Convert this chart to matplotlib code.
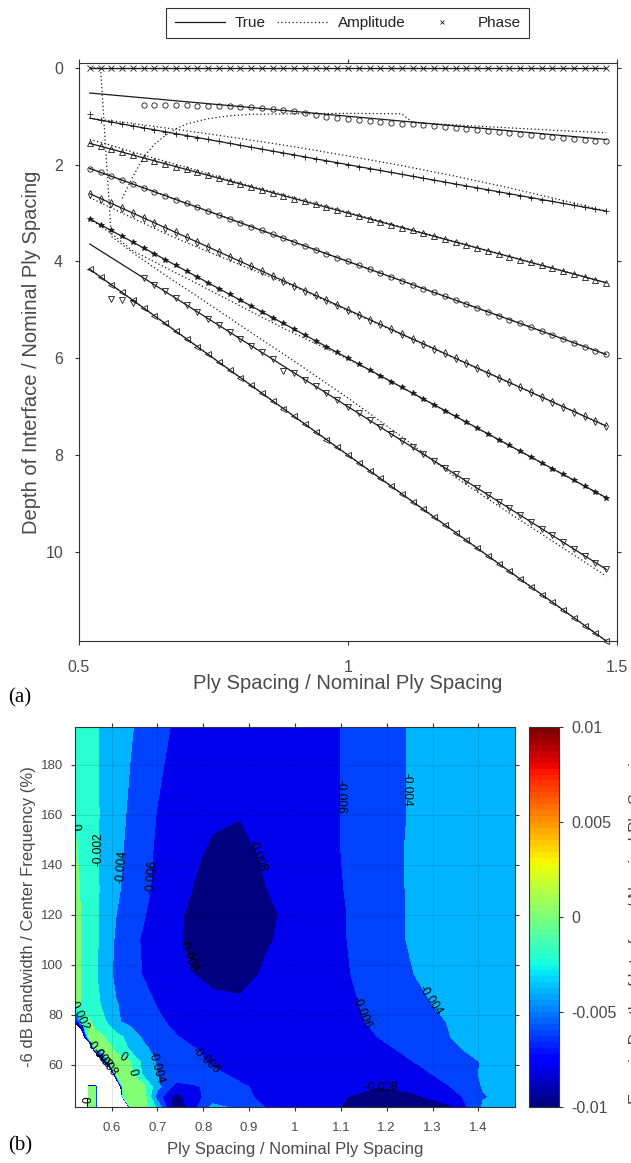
import numpy as np
import matplotlib
matplotlib.use('Agg')
import matplotlib.pyplot as plt
from matplotlib.lines import Line2D
from matplotlib.colors import Normalize
import matplotlib.cm as cm

plt.rcParams['font.family'] = ['Liberation Sans', 'DejaVu Sans']

nan = float('nan')

# ---------------- panel (a) data ----------------
ply_spacing = [0.52, 0.54, 0.56, 0.58, 0.60, 0.62, 0.64, 0.66, 0.68, 0.70, 0.72, 0.74,
               0.76, 0.78, 0.80, 0.82, 0.84, 0.86, 0.88, 0.90, 0.92, 0.94, 0.96, 0.98,
               1.00, 1.02, 1.04, 1.06, 1.08, 1.10, 1.12, 1.14, 1.16, 1.18, 1.20, 1.22,
               1.24, 1.26, 1.28, 1.30, 1.32, 1.34, 1.36, 1.38, 1.40, 1.42, 1.44, 1.46, 1.48]

true_x = [0.52, 1.48]
true_start = [0.0, 0.52, 1.04, 1.56, 2.08, 2.60, 3.12, 3.64, 4.16]
true_end = [0.0, 1.48, 2.96, 4.44, 5.92, 7.40, 8.88, 10.36, 11.84]

phase_0 = [0.0] * 49
phase_1 = [nan, nan, nan, nan, nan, 0.76, 0.76, 0.76, 0.77, 0.77, 0.78, 0.78, 0.79, 0.79,
           0.80, 0.80, 0.82, 0.84, 0.87, 0.90, 0.94, 0.97, 1.01, 1.03, 1.05, 1.07, 1.09,
           1.11, 1.13, 1.15, 1.17, 1.19, 1.21, 1.23, 1.25, 1.27, 1.29, 1.31, 1.33, 1.35,
           1.37, 1.39, 1.41, 1.43, 1.45, 1.47, 1.49, 1.51, 1.52]
phase_2 = [0.96, 1.08, 1.12, 1.16, 1.20, 1.24, 1.28, 1.32, 1.36, 1.40, 1.44, 1.48, 1.52,
           1.56, 1.60, 1.64, 1.68, 1.72, 1.76, 1.80, 1.84, 1.88, 1.92, 1.96, 2.00, 2.04,
           2.08, 2.12, 2.16, 2.20, 2.24, 2.28, 2.32, 2.36, 2.40, 2.44, 2.48, 2.52, 2.56,
           2.60, 2.64, 2.68, 2.72, 2.76, 2.80, 2.84, 2.88, 2.92, 2.96]
phase_3 = [1.56, 1.62, 1.68, 1.74, 1.80, 1.86, 1.92, 1.98, 2.04, 2.10, 2.16, 2.22, 2.28,
           2.34, 2.40, 2.46, 2.52, 2.58, 2.64, 2.70, 2.76, 2.82, 2.88, 2.94, 3.00, 3.06,
           3.12, 3.18, 3.24, 3.30, 3.36, 3.42, 3.48, 3.54, 3.60, 3.66, 3.72, 3.78, 3.84,
           3.90, 3.96, 4.02, 4.08, 4.14, 4.20, 4.26, 4.32, 4.38, 4.44]
phase_4 = [2.08, 2.16, 2.24, 2.32, 2.40, 2.48, 2.56, 2.64, 2.72, 2.80, 2.88, 2.96, 3.04,
           3.12, 3.20, 3.28, 3.36, 3.44, 3.52, 3.60, 3.68, 3.76, 3.84, 3.92, 4.00, 4.08,
           4.16, 4.24, 4.32, 4.40, 4.48, 4.56, 4.64, 4.72, 4.80, 4.88, 4.96, 5.04, 5.12,
           5.20, 5.28, 5.36, 5.44, 5.52, 5.60, 5.68, 5.76, 5.84, 5.92]
phase_5 = [2.6, 2.7, 2.8, 2.9, 3.0, 3.1, 3.2, 3.3, 3.4, 3.5, 3.6, 3.7, 3.8, 3.9, 4.0, 4.1,
           4.2, 4.3, 4.4, 4.5, 4.6, 4.7, 4.8, 4.9, 5.0, 5.1, 5.2, 5.3, 5.4, 5.5, 5.6, 5.7,
           5.8, 5.9, 6.0, 6.1, 6.2, 6.3, 6.4, 6.5, 6.6, 6.7, 6.8, 6.9, 7.0, 7.1, 7.2, 7.3, 7.4]
phase_6 = [3.12, 3.24, 3.36, 3.48, 3.60, 3.72, 3.84, 3.96, 4.08, 4.20, 4.32, 4.44, 4.56,
           4.68, 4.80, 4.92, 5.04, 5.16, 5.28, 5.40, 5.52, 5.64, 5.76, 5.88, 6.00, 6.12,
           6.24, 6.36, 6.48, 6.60, 6.72, 6.84, 6.96, 7.08, 7.20, 7.32, 7.44, 7.56, 7.68,
           7.80, 7.92, 8.04, 8.16, 8.28, 8.40, 8.52, 8.64, 8.76, 8.88]
phase_7 = [nan, nan, 4.78, 4.80, 4.86, 4.34, 4.48, 4.62, 4.76, 4.90, 5.04, 5.18, 5.32,
           5.46, 5.60, 5.74, 5.88, 6.02, 6.26, 6.30, 6.44, 6.58, 6.72, 6.86, 7.00, 7.14,
           7.28, 7.42, 7.56, 7.70, 7.84, 7.98, 8.12, 8.26, 8.40, 8.54, 8.68, 8.82, 8.96,
           9.10, 9.24, 9.38, 9.52, 9.66, 9.80, 9.94, 10.08, 10.22, 10.36]
phase_8 = [4.16, 4.32, 4.48, 4.64, 4.80, 4.96, 5.12, 5.28, 5.44, 5.60, 5.76, 5.92, 6.08,
           6.24, 6.40, 6.56, 6.72, 6.88, 7.04, 7.20, 7.36, 7.52, 7.68, 7.84, 8.00, 8.16,
           8.32, 8.48, 8.64, 8.80, 8.96, 9.12, 9.28, 9.44, 9.60, 9.76, 9.92, 10.08, 10.24,
           10.40, 10.56, 10.72, 10.88, 11.04, 11.20, 11.36, 11.52, 11.68, 11.84]

amp_x_0 = [0.52, 1.48]
amp_d_0 = [0.0, 0.0]
amp_x_1 = [0.58, 0.60, 0.62, 0.64, 0.66, 0.68, 0.70, 0.74, 0.78, 0.82, 0.90, 1.00, 1.10,
           1.12, 1.20, 1.30, 1.40, 1.48]
amp_d_1 = [2.70, 2.25, 1.85, 1.58, 1.40, 1.26, 1.16, 1.05, 0.99, 0.96, 0.95, 0.94, 0.95,
           1.13, 1.18, 1.24, 1.30, 1.34]
amp_x_2 = [0.52, 0.60, 0.70, 0.80, 0.90, 1.00, 1.10, 1.20, 1.30, 1.40, 1.48]
amp_d_2 = [1.04, 1.15, 1.30, 1.46, 1.63, 1.82, 2.02, 2.24, 2.48, 2.74, 2.96]
amp_x_3 = [0.52, 0.56, 0.60, 0.66, 0.72, 0.80, 0.90, 1.48]
amp_d_3 = [1.48, 1.60, 1.74, 1.93, 2.12, 2.38, 2.68, 4.44]
amp_x_4 = [0.52, 1.48]
amp_d_4 = [2.08, 5.92]
amp_x_5 = [0.52, 0.58, 0.66, 0.74, 0.82, 0.90, 1.48]
amp_d_5 = [2.68, 3.00, 3.42, 3.80, 4.16, 4.52, 7.40]
amp_x_6 = [0.52, 0.56, 0.60, 0.66, 0.72, 0.80, 0.88, 0.96, 1.04, 1.48]
amp_d_6 = [3.12, 3.42, 3.78, 4.12, 4.46, 4.92, 5.38, 5.80, 6.24, 8.88]
amp_x_7 = [0.52, 0.54, 0.56, 0.60, 0.66, 0.72, 0.80, 0.90, 1.00, 1.10, 1.20, 1.30, 1.40, 1.48]
amp_d_7 = [0.0, 0.0, 3.48, 3.82, 4.28, 4.72, 5.32, 6.06, 6.82, 7.62, 8.46, 9.20, 9.92, 10.50]
amp_x_8 = [0.52, 1.48]
amp_d_8 = [4.16, 11.84]

legend_labels = ['True', 'Amplitude', 'Phase']

# ---------------- panel (b) data ----------------
bw_ply_spacing = [0.52, 0.535, 0.55, 0.565, 0.58, 0.595, 0.61, 0.625, 0.64, 0.67, 0.70, 0.74,
                  0.78, 0.82, 0.88, 0.94, 1.02, 1.10, 1.18, 1.26, 1.34, 1.41, 1.48]
bw_bandwidth = [43, 47, 51, 56, 61, 66, 71, 77, 84, 96, 110, 120, 130, 145, 160, 195]
err_43 = [-0.1, -0.1, 0.0012, 0.0012, -0.1, -0.1, -0.1, -0.1, 0.0004,
          0.0010, -0.0025, -0.0097, -0.0066, -0.0035, -0.0045, -0.0062, -0.0072, -0.0080,
          -0.0090, -0.0088, -0.0082, -0.0038, -0.0034]
err_47 = [-0.1, -0.1, 0.0010, 0.0010, -0.1, -0.1, -0.1, 0.0002, 0.0008,
          0.0010, -0.0050, -0.0088, -0.0068, -0.0050, -0.0055, -0.0065, -0.0074, -0.0079,
          -0.0085, -0.0083, -0.0071, -0.0041, -0.0035]
err_51 = [-0.1, -0.1, 0.0003, 0.0003, -0.1, -0.1, -0.03, 0.0008, 0.0009,
          0.0006, -0.0035, -0.0068, -0.0062, -0.0056, -0.0058, -0.0064, -0.0072, -0.0077,
          -0.0080, -0.0075, -0.0060, -0.0039, -0.0034]
err_56 = [-0.1, -0.1, -0.1, -0.1, -0.1, -0.03, 0.0010, 0.0012, 0.0007,
          -0.0025, -0.0040, -0.0046, -0.0052, -0.0057, -0.0063, -0.0069, -0.0074, -0.0076,
          -0.0075, -0.0068, -0.0052, -0.0038, -0.0034]
err_61 = [-0.1, -0.1, -0.1, -0.05, -0.012, 0.0006, 0.0009, 0.0006, 0.0001,
          -0.0027, -0.0042, -0.0049, -0.0056, -0.0062, -0.0068, -0.0072, -0.0074, -0.0073,
          -0.0068, -0.0060, -0.0049, -0.0039, -0.0033]
err_66 = [-0.1, -0.1, -0.03, 0.0004, 0.0008, 0.0004, -0.0003, -0.0013, -0.0022,
          -0.0036, -0.0046, -0.0053, -0.0059, -0.0064, -0.0069, -0.0071, -0.0072, -0.0071,
          -0.0064, -0.0056, -0.0043, -0.0035, -0.0032]
err_71 = [-0.03, -0.017, 0.0006, 0.0005, 0.0002, -0.0005, -0.0013, -0.0020, -0.0028,
          -0.0043, -0.0051, -0.0059, -0.0065, -0.0069, -0.0073, -0.0073, -0.0072, -0.0069,
          -0.0060, -0.0051, -0.0040, -0.0035, -0.0031]
err_77 = [-0.009, -0.002, 0.0002, -0.0006, -0.0014, -0.0025, -0.0038, -0.0041, -0.0045,
          -0.0053, -0.0057, -0.0064, -0.0070, -0.0073, -0.0075, -0.0075, -0.0073, -0.0068,
          -0.0056, -0.0047, -0.0039, -0.0033, -0.0030]
err_84 = [0.0004, -0.0001, -0.0006, -0.0014, -0.0023, -0.0031, -0.0039, -0.0043, -0.0047,
          -0.0054, -0.0061, -0.0068, -0.0073, -0.0076, -0.0078, -0.0077, -0.0073, -0.0066,
          -0.0054, -0.0044, -0.0036, -0.0032, -0.0030]
err_96 = [0.0005, -0.0001, -0.0008, -0.0018, -0.0028, -0.0036, -0.0045, -0.0050, -0.0054,
          -0.0061, -0.0067, -0.0074, -0.0080, -0.0084, -0.0084, -0.0078, -0.0073, -0.0063,
          -0.0052, -0.0040, -0.0034, -0.0031, -0.0030]
err_110 = [0.0005, -0.0001, -0.0006, -0.0016, -0.0026, -0.0034, -0.0043, -0.0049, -0.0055,
           -0.0062, -0.0069, -0.0078, -0.0084, -0.0087, -0.0088, -0.0081, -0.0075, -0.0062,
           -0.0050, -0.0037, -0.0033, -0.0031, -0.0030]
err_120 = [0.0004, -0.0001, -0.0007, -0.0016, -0.0025, -0.0032, -0.0040, -0.0045, -0.0051,
           -0.0059, -0.0066, -0.0077, -0.0084, -0.0087, -0.0088, -0.0082, -0.0075, -0.0062,
           -0.0050, -0.0037, -0.0033, -0.0031, -0.0030]
err_130 = [0.0004, -0.0002, -0.0008, -0.0016, -0.0024, -0.0030, -0.0037, -0.0042, -0.0047,
           -0.0056, -0.0064, -0.0073, -0.0081, -0.0084, -0.0086, -0.0080, -0.0073, -0.0061,
           -0.0049, -0.0037, -0.0033, -0.0031, -0.0030]
err_145 = [0.0002, -0.0004, -0.0010, -0.0017, -0.0024, -0.0029, -0.0036, -0.0040, -0.0045,
           -0.0054, -0.0063, -0.0071, -0.0077, -0.0083, -0.0083, -0.0078, -0.0072, -0.0060,
           -0.0048, -0.0037, -0.0033, -0.0031, -0.0030]
err_160 = [-0.0001, -0.0006, -0.0012, -0.0017, -0.0023, -0.0028, -0.0034, -0.0038, -0.0043,
           -0.0052, -0.0061, -0.0068, -0.0073, -0.0077, -0.00795, -0.0077, -0.0071, -0.0060,
           -0.0048, -0.0038, -0.0034, -0.0031, -0.0030]
err_195 = [-0.0008, -0.0011, -0.0014, -0.0018, -0.0023, -0.0027, -0.0031, -0.0034, -0.0038,
           -0.0046, -0.0053, -0.0063, -0.0069, -0.0074, -0.0077, -0.0077, -0.0072, -0.0060,
           -0.0048, -0.0038, -0.0034, -0.0031, -0.0030]

contour_levels = [-0.01, -0.008, -0.006, -0.004, -0.002, 0.0, 0.002]
cbar_ticks = [-0.01, -0.005, 0.0, 0.005, 0.01]
cbar_ticklabels = ['-0.01', '-0.005', '0', '0.005', '0.01']
bx_ticks = [0.6, 0.7, 0.8, 0.9, 1.0, 1.1, 1.2, 1.3, 1.4]
bx_ticklabels = ['0.6', '0.7', '0.8', '0.9', '1', '1.1', '1.2', '1.3', '1.4']
by_ticks = [60, 80, 100, 120, 140, 160, 180]
label_spots = [(0.525, 158), (0.575, 146), (0.625, 139), (0.687, 135), (0.909, 143),
               (0.756, 103), (1.105, 167), (1.233, 170), (1.13, 80), (1.288, 85),
               (0.80, 61), (0.70, 59), (0.647, 57), (0.629, 64), (0.53, 80), (0.557, 46),
               (1.185, 47), (0.565, 63), (0.575, 59)]

# ---------------- figure ----------------
W, H = 631, 1163
fig = plt.figure(figsize=(W / 100, H / 100), dpi=100)
ink = '#1a1a1a'
txt = '#4a4a4a'

axA = fig.add_axes([79 / W, 1 - 641 / H, 538 / W, 578 / H])
phases = [phase_0, phase_1, phase_2, phase_3, phase_4, phase_5, phase_6, phase_7, phase_8]
amps_x = [amp_x_0, amp_x_1, amp_x_2, amp_x_3, amp_x_4, amp_x_5, amp_x_6, amp_x_7, amp_x_8]
amps_d = [amp_d_0, amp_d_1, amp_d_2, amp_d_3, amp_d_4, amp_d_5, amp_d_6, amp_d_7, amp_d_8]
markers = ['x', 'o', '+', '^', 'o', 'd', '*', 'v', '<']
dotted = (0, (1, 2))
for k in range(9):
    assert len(phases[k]) == len(ply_spacing)
    axA.plot(true_x, [true_start[k], true_end[k]], color=ink, lw=0.9)
    axA.plot(amps_x[k], amps_d[k], color=ink, lw=0.9, ls=dotted)
    face = ink if markers[k] == '*' else 'none'
    axA.plot(ply_spacing, phases[k], ls='none', marker=markers[k], ms=3.8,
             mfc=face, mec=ink, mew=0.6, clip_on=False)

axA.set_xlim(0.5, 1.5)
axA.set_ylim(11.84, -0.1)
axA.set_xticks([0.5, 1.0, 1.5])
axA.set_xticklabels(['0.5', '1', '1.5'])
axA.set_yticks([0, 2, 4, 6, 8, 10])
axA.tick_params(direction='out', length=3, width=0.8, color='#333333', labelcolor=txt,
                labelsize=11.5, top=True, right=True, labeltop=False, labelright=False)
axA.tick_params(axis='y', pad=8.5)
axA.tick_params(axis='x', pad=11)
for s in axA.spines.values():
    s.set_color('#333333')
    s.set_linewidth(0.8)
axA.set_xlabel('Ply Spacing / Nominal Ply Spacing', fontsize=14.5, color=txt)
axA.xaxis.set_label_coords(0.5, -0.0571)
axA.set_ylabel('Depth of Interface / Nominal Ply Spacing', fontsize=14.5, color=txt)
axA.yaxis.set_label_coords(-0.0706, 0.5)

handles = [Line2D([], [], color=ink, lw=0.9),
           Line2D([], [], color=ink, lw=0.9, ls=dotted),
           Line2D([], [], ls='none', marker='x', ms=3.5, mec=ink, mew=0.6)]
leg = fig.legend(handles, legend_labels, loc='center', bbox_to_anchor=(347.5 / W, 1 - 23 / H),
                 ncol=3, fontsize=11, handlelength=3.3, handletextpad=0.65,
                 columnspacing=0.75, borderpad=0.55, fancybox=False, framealpha=1,
                 edgecolor='#333333')
leg.get_frame().set_linewidth(0.8)
for t in leg.get_texts():
    t.set_color('#222222')

fig.text(8 / W, 1 - 702 / H, '(a)', family=['Liberation Serif', 'DejaVu Serif'],
         fontsize=15, va='baseline', ha='left', color='k')

# ---------------- panel (b) ----------------
axB = fig.add_axes([75 / W, 1 - 1107 / H, 440 / W, 380 / H])
Xg, Yg = np.meshgrid(bw_ply_spacing, bw_bandwidth)
Z = np.array([err_43, err_47, err_51, err_56, err_61, err_66, err_71, err_77, err_84,
              err_96, err_110, err_120, err_130, err_145, err_160, err_195])
jet64 = plt.get_cmap('jet', 64)
norm = Normalize(-0.01, 0.01)
fill_colors = [jet64(norm(l)) for l in contour_levels[:-1]]
axB.contourf(Xg, Yg, Z, levels=contour_levels, colors=fill_colors)
cs = axB.contour(Xg, Yg, Z, levels=contour_levels[1:-1], colors='k', linewidths=0)
axB.clabel(cs, levels=contour_levels[1:-1], fmt=lambda v: f'{v:g}', manual=label_spots,
           fontsize=8.5, inline=False, colors='k')
axB.set_xlim(0.52, 1.48)
axB.set_ylim(43, 195)
axB.set_xticks(bx_ticks)
axB.set_xticklabels(bx_ticklabels)
axB.set_yticks(by_ticks)
axB.grid(True, color='k', alpha=0.13, lw=0.6)
axB.set_axisbelow(False)
axB.tick_params(direction='out', length=3, width=0.8, color='#333333', labelcolor=txt,
                labelsize=9.5, top=True, right=True, labeltop=False, labelright=False)
axB.tick_params(axis='y', pad=5.5)
axB.tick_params(axis='x', pad=8)
for s in axB.spines.values():
    s.set_color('#333333')
    s.set_linewidth(0.8)
axB.set_xlabel('Ply Spacing / Nominal Ply Spacing', fontsize=12, color=txt)
axB.xaxis.set_label_coords(0.5, -0.092)
axB.set_ylabel('-6 dB Bandwidth / Center Frequency (%)', fontsize=12, color=txt)
axB.yaxis.set_label_coords(-0.0875, 0.5)

cax = fig.add_axes([529 / W, 1 - 1107 / H, 30 / W, 380 / H])
sm = cm.ScalarMappable(norm=norm, cmap=jet64)
cb = fig.colorbar(sm, cax=cax, ticks=cbar_ticks)
cb.ax.set_yticklabels(cbar_ticklabels)
cb.ax.tick_params(direction='out', length=3, width=0.8, color='#333333', labelcolor=txt,
                  labelsize=11.5, pad=6)
cb.outline.set_linewidth(0.8)
cb.outline.set_edgecolor('#333333')

fig.text(629.5 / W, 1 - 924 / H, 'Error in Depth of Interface / Nominal Ply Spacing',
         rotation=90, ha='left', va='center', fontsize=12, color=txt)
fig.text(8 / W, 1 - 1150 / H, '(b)', family=['Liberation Serif', 'DejaVu Serif'],
         fontsize=15, va='baseline', ha='left', color='k')

fig.savefig('out.png', dpi=100)
